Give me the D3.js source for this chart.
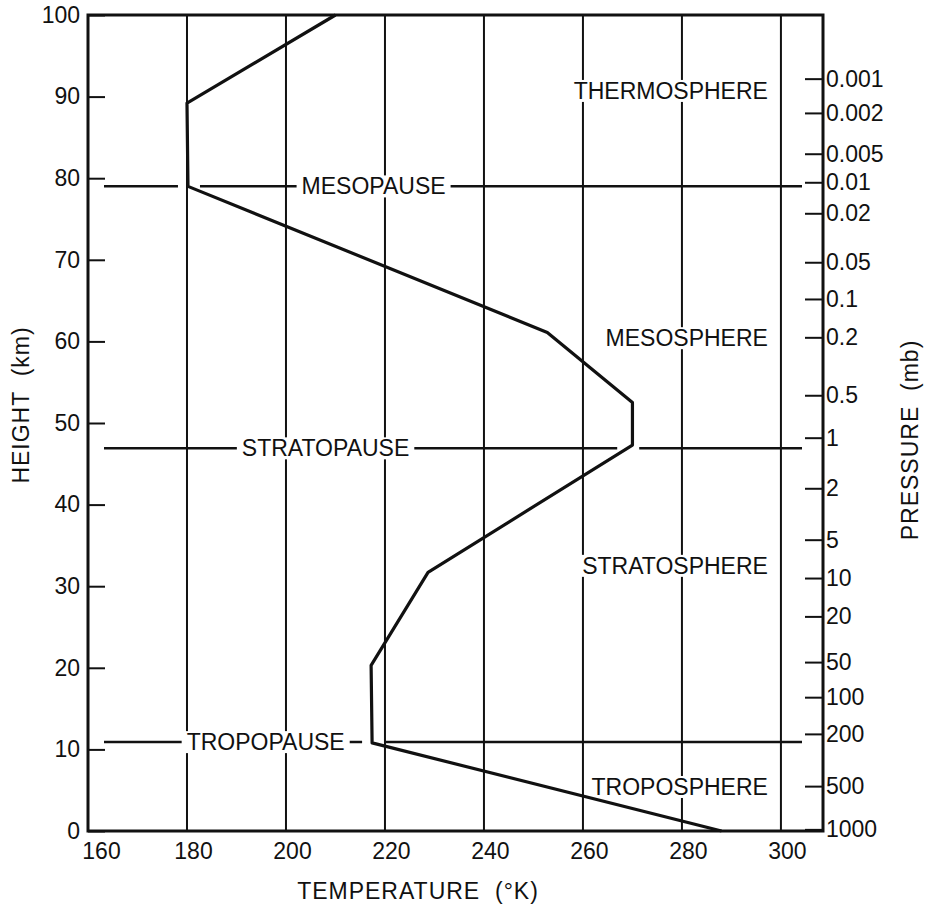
<!DOCTYPE html>
<html>
<head>
<meta charset="utf-8">
<script src="https://cdn.jsdelivr.net/npm/d3@7"></script>
<style>
  body { margin: 0; background: #fff; }
  text { font-family: 'Liberation Sans', Arial, sans-serif; fill: #111; }
</style>
</head>
<body>
<svg id="chart" width="930" height="907"></svg>
<script>
'use strict'

// temperature profile
const profileTemp = [288, 217.4, 217.2, 228.7, 270, 270, 252.8, 180.2, 180, 210]
const profileHeight = [0, 10.8, 20.3, 31.7, 47.3, 52.5, 61.1, 79, 89.2, 100]

const tempTicks = [160, 180, 200, 220, 240, 260, 280, 300]
const heightTicks = [0, 10, 20, 30, 40, 50, 60, 70, 80, 90, 100]

// pressure scale on the right, with the height each tick sits at
const pressureLabels = ['0.001', '0.002', '0.005', '0.01', '0.02', '0.05', '0.1', '0.2', '0.5', '1',
  '2', '5', '10', '20', '50', '100', '200', '500', '1000']
const pressureHeights = [92.2, 88.0, 83.0, 79.5, 75.7, 69.7, 65.2, 60.5, 53.4, 48.2,
  42.0, 35.7, 31.0, 26.3, 20.7, 16.4, 11.9, 5.5, 0.2]

// the "pause" boundaries
const pauseNames = ['MESOPAUSE', 'STRATOPAUSE', 'TROPOPAUSE']
const pauseHeights = [79, 46.9, 10.9]
const pauseLabelTemp = [217.7, 208, 195.9]

// layer names
const layerNames = ['THERMOSPHERE', 'MESOSPHERE', 'STRATOSPHERE', 'TROPOSPHERE']
const layerHeights = [90.7, 60.4, 32.5, 5.4]

const svg = d3.select('#chart')

const x = d3.scaleLinear().domain([160, 308.5]).range([88, 823])
const y = d3.scaleLinear().domain([0, 100]).range([831, 15])

const x0 = x.range()[0], x1 = x.range()[1]
const y0 = y.range()[0], y1 = y.range()[1]

// vertical grid lines
svg.append('g')
  .selectAll('line')
  .data(tempTicks.filter(t => t > 160))
  .enter().append('line')
  .attr('x1', d => x(d)).attr('x2', d => x(d))
  .attr('y1', y0).attr('y2', y1)
  .attr('stroke', '#111').attr('stroke-width', 2)

// temperature on the profile at a given height
const tempAt = (h) => {
  for (let i = 0; i < profileHeight.length - 1; i++) {
    let a = profileHeight[i], b = profileHeight[i + 1]
    if ((h - a) * (h - b) <= 0 && a !== b) {
      return profileTemp[i] + (profileTemp[i + 1] - profileTemp[i]) * (h - a) / (b - a)
    }
  }
  return null
}

// boundary lines, broken where they meet the profile
const lineL = x0 + 16, lineR = x1 - 21
const pauses = svg.append('g')
pauseHeights.forEach((h) => {
  let px = x(tempAt(h))
  let segs = [[lineL, px - 10], [px + 12, lineR]]
  segs.forEach(s => {
    pauses.append('line')
      .attr('x1', s[0]).attr('x2', s[1])
      .attr('y1', y(h)).attr('y2', y(h))
      .attr('stroke', '#111').attr('stroke-width', 2.5)
  })
})

// labels with a white backing so lines stop short of the text
const labels = svg.append('g')
const addLabel = (txt, px, py, anchor) => {
  let g = labels.append('g')
  let t = g.append('text')
    .attr('x', px).attr('y', py).attr('dy', '0.35em')
    .attr('text-anchor', anchor)
    .style('font-size', '23px')
    .text(txt)
  let bb = t.node().getBBox()
  g.insert('rect', 'text')
    .attr('x', bb.x - 5).attr('y', bb.y + 2)
    .attr('width', bb.width + 10).attr('height', bb.height - 4)
    .attr('fill', '#fff')
}

pauseNames.forEach((n, i) => addLabel(n, x(pauseLabelTemp[i]), y(pauseHeights[i]), 'middle'))
layerNames.forEach((n, i) => addLabel(n, x(300) - 13, y(layerHeights[i]), 'end'))

// temperature profile
const line = d3.line()
  .x(d => x(d[0]))
  .y(d => y(d[1]))

svg.append('path')
  .datum(d3.zip(profileTemp, profileHeight))
  .attr('d', line)
  .attr('fill', 'none')
  .attr('stroke', '#111')
  .attr('stroke-width', 3.2)
  .attr('stroke-linejoin', 'round')

// frame
svg.append('rect')
  .attr('x', x0).attr('y', y1)
  .attr('width', x1 - x0).attr('height', y0 - y1)
  .attr('fill', 'none').attr('stroke', '#111').attr('stroke-width', 3)

// axes
const styleAxis = (g) => {
  g.select('.domain').remove()
  g.selectAll('line').attr('stroke', '#111').attr('stroke-width', 2)
  g.selectAll('text').style('font-size', '23px').attr('fill', '#111')
  g.attr('font-family', null)
}

svg.append('g')
  .attr('transform', 'translate(' + x0 + ',0)')
  .call(d3.axisLeft(y).tickValues(heightTicks).tickSizeInner(-17).tickSizeOuter(0).tickPadding(8)
    .tickFormat(d3.format('d')))
  .call(styleAxis)

// bottom labels sit a little right of their grid lines in the original
svg.append('g')
  .attr('transform', 'translate(0,' + y0 + ')')
  .call(d3.axisBottom(x).tickValues(tempTicks).tickSize(0).tickPadding(12))
  .call(styleAxis)
  .selectAll('text')
  .attr('dx', d => d === 160 ? 13 : 6)

svg.append('g')
  .attr('transform', 'translate(' + x1 + ',0)')
  .call(d3.axisRight(y).tickValues(pressureHeights).tickSizeInner(-18).tickSizeOuter(0).tickPadding(3)
    .tickFormat((d, i) => pressureLabels[i]))
  .call(styleAxis)

// axis titles
svg.append('text')
  .attr('transform', 'translate(21,405)rotate(-90)')
  .attr('text-anchor', 'middle').attr('dy', '0.35em')
  .style('font-size', '23px').style('white-space', 'pre').style('letter-spacing', '1px')
  .text('HEIGHT  (km)')

svg.append('text')
  .attr('transform', 'translate(910,440)rotate(-90)')
  .attr('text-anchor', 'middle').attr('dy', '0.35em')
  .style('font-size', '23px').style('white-space', 'pre').style('letter-spacing', '1px')
  .text('PRESSURE  (mb)')

svg.append('text')
  .attr('x', 418).attr('y', 891)
  .attr('text-anchor', 'middle').attr('dy', '0.35em')
  .style('font-size', '23px').style('white-space', 'pre').style('letter-spacing', '1px')
  .text('TEMPERATURE  (°K)')
</script>
</body>
</html>
